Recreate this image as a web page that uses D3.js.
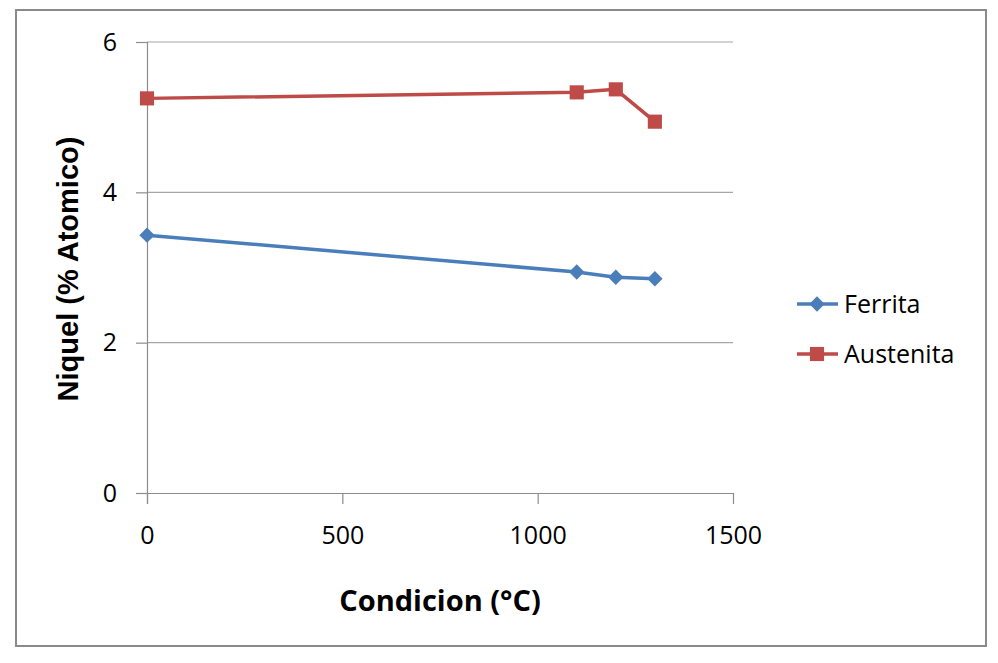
<!DOCTYPE html>
<html><head><meta charset="utf-8">
<script src="https://cdn.jsdelivr.net/npm/d3@7"></script>
<style>body{margin:0;background:#fff;}svg{display:block;}</style>
</head><body>
<svg id="c" width="998" height="663"></svg>
<script>
const xVals = [0, 1100, 1200, 1300];
const ferrita = [3.43, 2.94, 2.87, 2.85];
const austenita = [5.25, 5.33, 5.37, 4.94];
const seriesNames = ["Ferrita", "Austenita"];
const xTicks = [0, 500, 1000, 1500];
const yTicks = [0, 2, 4, 6];

const svg = d3.select("#c");
svg.append("rect").attr("x", 16).attr("y", 10).attr("width", 970).attr("height", 636)
  .attr("fill", "#fff").attr("stroke", "#8a8a8a").attr("stroke-width", 2);

const x = d3.scaleLinear().domain([0, 1500]).range([147, 733]);
const y = d3.scaleLinear().domain([0, 6]).range([493, 42]);
const font = "'Liberation Sans', Arial, sans-serif";
const bodyFont = "'Open Sans', 'Liberation Sans', sans-serif";

// gridlines
svg.append("g").selectAll("line").data(yTicks.filter(d => d !== 0)).join("line")
  .attr("x1", x(0)).attr("x2", x(1500)).attr("y1", d => y(d)).attr("y2", d => y(d))
  .attr("stroke", "#a6a6a6").attr("stroke-width", 1.2);

const yAxis = svg.append("g").attr("transform", `translate(${x(0)},0)`)
  .call(d3.axisLeft(y).tickValues(yTicks).tickSize(11).tickPadding(19).tickFormat(d3.format("d")));
const xAxis = svg.append("g").attr("transform", `translate(0,${y(0)})`)
  .call(d3.axisBottom(x).tickValues(xTicks).tickSize(11).tickPadding(22).tickFormat(d3.format("d")));
[yAxis, xAxis].forEach(g => {
  g.select(".domain").attr("stroke", "#8c8c8c").attr("stroke-width", 1.2);
  g.selectAll(".tick line").attr("stroke", "#8c8c8c").attr("stroke-width", 1.2);
  g.selectAll(".tick text").attr("fill", "#000").style("font-family", bodyFont).style("font-size", "25px");
});
xAxis.select(".domain").attr("d", `M${x(0)-10},0.5H${x(1500)}`);
yAxis.select(".domain").attr("d", `M0.5,${y(6)}V${y(0)+11}`);

svg.append("text").attr("x", 440).attr("y", 611).attr("text-anchor", "middle")
  .style("font-family", bodyFont).style("font-weight", "bold").style("font-size", "29px")
  .text("Condicion (°C)");
svg.append("text").attr("transform", "translate(78,269) rotate(-90)").attr("text-anchor", "middle")
  .style("font-family", font).style("font-weight", "bold").style("font-size", "29px")
  .text("Niquel (% Atomico)");

const colors = ["#4a7ebb", "#be4b48"];
const data = [ferrita, austenita];
const line = d3.line().x((d, i) => x(xVals[i])).y(d => y(d));
const diamond = d3.symbol().type(d3.symbolDiamond2).size(150);
const square = d3.symbol().type(d3.symbolSquare).size(200);

data.forEach((s, k) => {
  svg.append("path").datum(s).attr("d", line).attr("fill", "none")
    .attr("stroke", colors[k]).attr("stroke-width", 3.5).attr("stroke-linejoin", "round");
  svg.append("g").selectAll("path").data(s).join("path")
    .attr("d", k === 0 ? diamond() : square())
    .attr("transform", (d, i) => `translate(${x(xVals[i])},${y(d)})`)
    .attr("fill", colors[k]);
});

const legY = [304, 354];
seriesNames.forEach((n, k) => {
  const g = svg.append("g");
  g.append("line").attr("x1", 797).attr("x2", 838).attr("y1", legY[k]).attr("y2", legY[k])
    .attr("stroke", colors[k]).attr("stroke-width", 3.5);
  g.append("path").attr("d", k === 0 ? diamond() : square())
    .attr("transform", `translate(817,${legY[k]})`).attr("fill", colors[k]);
  g.append("text").attr("x", 844).attr("y", legY[k] + 9)
    .style("font-family", bodyFont).style("font-size", "25px").attr("fill", "#000").text(n);
});
</script>
</body></html>
